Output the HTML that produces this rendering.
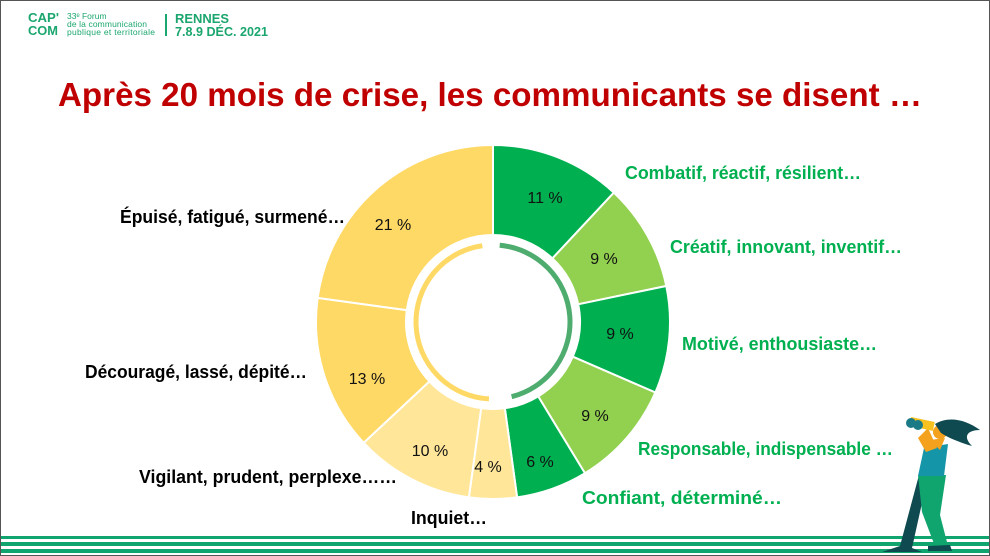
<!DOCTYPE html>
<html><head><meta charset="utf-8"><style>
html,body{margin:0;padding:0;background:#fff}
svg{display:block}
text{font-family:"Liberation Sans",sans-serif}
</style></head><body>
<svg width="990" height="556" viewBox="0 0 990 556" xmlns="http://www.w3.org/2000/svg">
<rect x="0.5" y="0.5" width="989" height="555" fill="#fff" stroke="#555"/>
<g fill="#1aa66e" font-weight="bold">
<text x="28" y="22" font-size="13" textLength="31" lengthAdjust="spacingAndGlyphs">CAP'</text>
<text x="28" y="35" font-size="13" textLength="30" lengthAdjust="spacingAndGlyphs">COM</text>
<text x="67" y="19" font-size="8.5" font-weight="normal">33ᵉ Forum</text>
<text x="67" y="27" font-size="8.5" font-weight="normal" textLength="80">de la communication</text>
<text x="67" y="35" font-size="8.5" font-weight="normal" textLength="88">publique et territoriale</text>
<rect x="165" y="14" width="2" height="22"/>
<text x="175" y="23" font-size="13" textLength="54" lengthAdjust="spacingAndGlyphs">RENNES</text>
<text x="175" y="36" font-size="13" textLength="93" lengthAdjust="spacingAndGlyphs">7.8.9 DÉC. 2021</text>
</g>
<text x="58" y="106" font-size="33" font-weight="bold" fill="#c00000" textLength="864" lengthAdjust="spacingAndGlyphs">Après 20 mois de crise, les communicants se disent …</text>
<g id="donut"></g>
<g font-size="16" fill="#111" text-anchor="middle">
<text x="545" y="203">11 %</text><text x="604" y="264">9 %</text><text x="620" y="339">9 %</text>
<text x="595" y="421">9 %</text><text x="540" y="467">6 %</text><text x="488" y="472">4 %</text>
<text x="430" y="456">10 %</text><text x="367" y="384">13 %</text><text x="393" y="230">21 %</text>
</g>
<g font-size="18" font-weight="bold" fill="#00b050" lengthAdjust="spacingAndGlyphs">
<text x="625" y="179" textLength="236" lengthAdjust="spacingAndGlyphs">Combatif, réactif, résilient…</text>
<text x="670" y="253" textLength="232" lengthAdjust="spacingAndGlyphs">Créatif, innovant, inventif…</text>
<text x="682" y="350" textLength="195" lengthAdjust="spacingAndGlyphs">Motivé, enthousiaste…</text>
<text x="638" y="455" textLength="255" lengthAdjust="spacingAndGlyphs">Responsable, indispensable …</text>
<text x="582" y="504" textLength="200" lengthAdjust="spacingAndGlyphs">Confiant, déterminé…</text>
</g>
<g font-size="18" font-weight="bold" fill="#000" text-anchor="end">
<text x="345" y="223" textLength="225" lengthAdjust="spacingAndGlyphs">Épuisé, fatigué, surmené…</text>
<text x="307" y="378" textLength="222" lengthAdjust="spacingAndGlyphs">Découragé, lassé, dépité…</text>
<text x="397" y="483" textLength="258" lengthAdjust="spacingAndGlyphs">Vigilant, prudent, perplexe……</text>
<text x="487" y="524" textLength="76" lengthAdjust="spacingAndGlyphs">Inquiet…</text>
</g>
<g fill="#10a56e">
<rect x="1" y="536" width="988" height="3"/>
<rect x="1" y="542" width="988" height="4"/>
<rect x="1" y="549" width="988" height="4"/>
</g>
<!-- figure -->
<g>
<path d="M919 475 L928 476 L912 548 L922 552 L882 552 L900 546 Z" fill="#0e4a50"/>
<path d="M918 475 L946 475 L940 515 L948 546 L936 549 L922 512 Z" fill="#10a56e"/>
<path d="M928 546 L950 545 L952 551 L928 551 Z" fill="#0e4a50"/>
<path d="M924 448 L948 444 L944 476 L918 476 Z" fill="#1496a8"/>
<path d="M926 452 L918 438 L928 428 L937 448 Z" fill="#f4a21e"/>
<path d="M930 440 L945 438 L940 450 Z" fill="#f4a21e"/>
<circle cx="940" cy="432" r="7" fill="#f4a21e"/>
<path d="M935 424 C948 416 965 419 980 430 C968 430 962 436 972 446 C958 442 947 437 941 433 Z" fill="#0e4a50"/>
<rect x="910" y="419" width="24" height="9" fill="#f7c21f" transform="rotate(12 920 424)"/>
<circle cx="911" cy="423" r="5" fill="#1a7b86"/><circle cx="918" cy="425" r="5" fill="#1a7b86"/>
</g>
<script>
(function(){
var cx=493,cy=322,R=177,r=87,g=document.getElementById('donut');
var d=[[11,'#00b050'],[9,'#92d050'],[9,'#00b050'],[9,'#92d050'],[6,'#00b050'],[4,'#ffe699'],[10,'#ffe699'],[13,'#ffd966'],[21,'#ffd966']];
var tot=92,a=0,ns='http://www.w3.org/2000/svg';
function p(rad,ang){return [cx+rad*Math.sin(ang),cy-rad*Math.cos(ang)];}
d.forEach(function(s){
 var a0=a/tot*2*Math.PI;a+=s[0];var a1=a/tot*2*Math.PI;
 var l=(a1-a0)>Math.PI?1:0;
 var A=p(R,a0),B=p(R,a1),C=p(r,a1),D=p(r,a0);
 var e=document.createElementNS(ns,'path');
 e.setAttribute('d','M'+A+' A'+R+' '+R+' 0 '+l+' 1 '+B+' L'+C+' A'+r+' '+r+' 0 '+l+' 0 '+D+'Z');
 e.setAttribute('fill',s[1]);e.setAttribute('stroke','#fff');e.setAttribute('stroke-width','2');
 g.appendChild(e);
});
function arc(a0,a1,col){var A=p(77,a0*Math.PI/180),B=p(77,a1*Math.PI/180);
 var e=document.createElementNS(ns,'path');
 e.setAttribute('d','M'+A+' A77 77 0 0 1 '+B);e.setAttribute('fill','none');
 e.setAttribute('stroke',col);e.setAttribute('stroke-width','5');g.appendChild(e);}
arc(5,166,'#4ead6e');arc(183,352,'#ffd966');
})();
</script>
</svg>
</body></html>
